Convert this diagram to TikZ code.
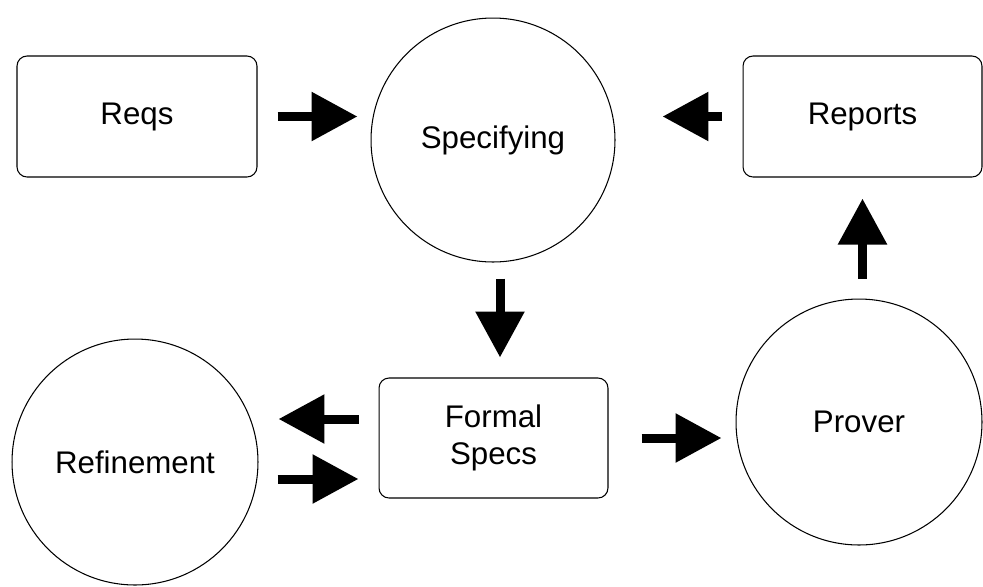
\documentclass[tikz,border=0pt]{standalone}
\usepackage{fontspec}
\setmainfont{Liberation Sans}
\usetikzlibrary{arrows.meta}

\begin{document}
\begin{tikzpicture}[x=0.02cm, y=-0.02cm]
        % styles
        \tikzstyle{box}=[draw, line width=0.6pt, rounded corners=0.2cm, minimum width=4.8cm, minimum height=2.42cm, align=center, font=\fontsize{17.8}{21}\selectfont]
        \tikzstyle{process}=[draw, circle, line width=0.6pt, minimum size=4.92cm, inner sep=0pt, font=\fontsize{17.8}{21}\selectfont]
        \tikzstyle{flow}=[line width=0.18cm, -{Triangle[length=0.92cm, width=0.94cm]}]

        \useasboundingbox (0,0) rectangle (983,586);

        % boxes
        \node[box] (reqs) at (137,116.5) {Reqs};
        \node[box, minimum width=4.78cm] (reports) at (862.5,116.5) {Reports};
        \node[box, minimum width=4.58cm, minimum height=2.4cm] (formal) at (493.5,438) {Formal\\Specs};

        % circles
        \node[process, minimum size=4.88cm] (spec) at (493,140) {Specifying};
        \node[process] (refine) at (135,462) {Refinement};
        \node[process] (prover) at (859,422) {Prover};

        % helper points
        \coordinate (sf) at ([xshift=0.14cm]spec.south);
        \coordinate (fr) at ([yshift=0.38cm]formal.west);
        \coordinate (rf) at ([yshift=-0.82cm]formal.west);
        \coordinate (fp) at (formal.east);

        % arrows
        \draw[flow, shorten <=0.4cm, shorten >=0.26cm] (reqs.east) -- (reqs.east -| spec.west);
        \draw[flow, shorten <=0.42cm, shorten >=0.94cm] (reports.west) -- (reports.west -| spec.east);
        \draw[flow, shorten <=0.32cm, shorten >=0.4cm] (sf) -- (sf |- formal.north);
        \draw[flow, shorten <=0.4cm, shorten >=0.42cm] (prover.north -| reports.south) -- (reports.south);
        \draw[flow, shorten <=0.66cm, shorten >=0.28cm] (fp) -- (fp -| prover.west);
        \draw[flow, shorten <=0.4cm, shorten >=0.4cm] (fr) -- (fr -| refine.east);
        \draw[flow, shorten <=0.38cm, shorten >=0.4cm] (rf -| refine.east) -- (rf);
    \end{tikzpicture}
\end{document}
